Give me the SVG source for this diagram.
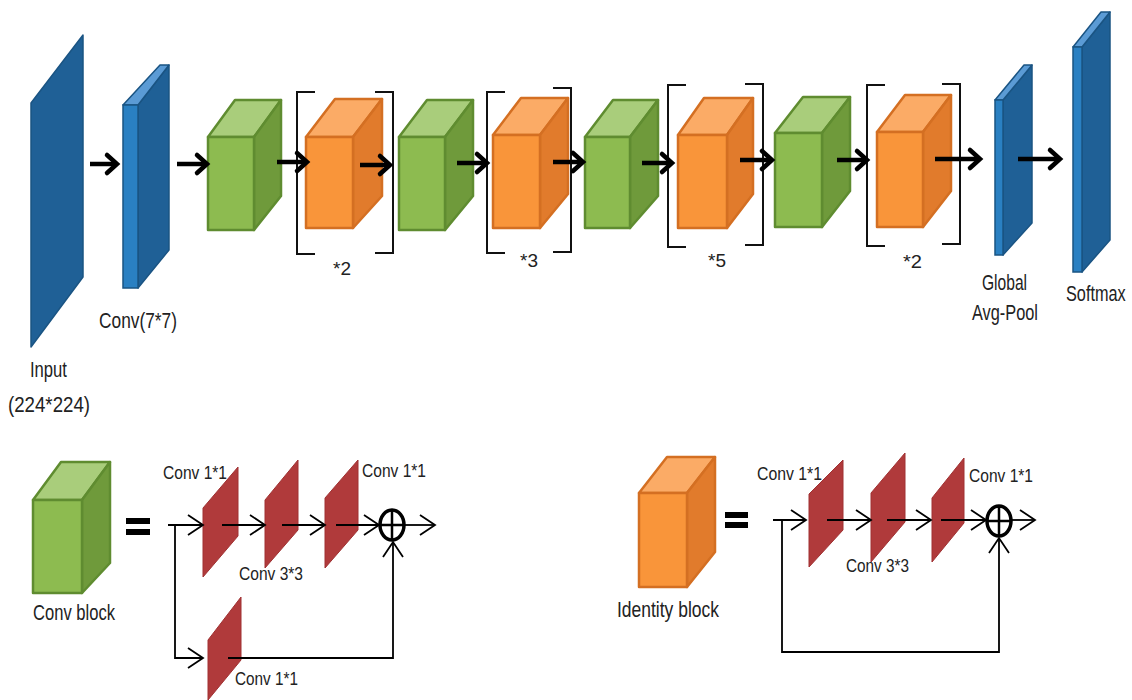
<svg xmlns="http://www.w3.org/2000/svg" width="1132" height="700" viewBox="0 0 1132 700">
<style>
.t{font-family:"Liberation Sans",Arial,sans-serif;fill:#222;font-size:22px}
.s{font-family:"Liberation Sans",Arial,sans-serif;fill:#222;font-size:18px}
.gf{fill:#8dbb50;stroke:#5f8c30;stroke-width:2.5;stroke-linejoin:round}
.gs{fill:#6f9a3b;stroke:#5f8c30;stroke-width:2.5;stroke-linejoin:round}
.gt{fill:#a9cd7b;stroke:#5f8c30;stroke-width:2.5;stroke-linejoin:round}
.of{fill:#f9953a;stroke:#d46f22;stroke-width:2.5;stroke-linejoin:round}
.os{fill:#e17b2c;stroke:#d46f22;stroke-width:2.5;stroke-linejoin:round}
.ot{fill:#fbab66;stroke:#d46f22;stroke-width:2.5;stroke-linejoin:round}
.bd{fill:#1f6096;stroke:#1a5483;stroke-width:1.5;stroke-linejoin:round}
.bf{fill:#2a80c2;stroke:#1a5483;stroke-width:1.5}
.bt{fill:#5b9bd5;stroke:#1a5483;stroke-width:1.5;stroke-linejoin:round}
.red{fill:#b03a3b;stroke:#a03132;stroke-width:1}
.br{fill:none;stroke:#111;stroke-width:2}
.ba{fill:none;stroke:#000;stroke-width:4.5;marker-end:url(#bigHead)}
.ta{fill:none;stroke:#000;stroke-width:1.8;marker-end:url(#thinHead)}
.eq{fill:#000}
</style>
<defs>
<marker id="bigHead" markerUnits="userSpaceOnUse" markerWidth="20" markerHeight="24" refX="11" refY="10" orient="auto" overflow="visible">
<path d="M1,1 L11,10 L1,19" fill="none" stroke="#000" stroke-width="4.5" stroke-linecap="round" stroke-linejoin="miter"/>
</marker>
<marker id="thinHead" markerUnits="userSpaceOnUse" markerWidth="20" markerHeight="22" refX="15" refY="10" orient="auto" overflow="visible">
<path d="M0,0 L15,10 L0,20" fill="none" stroke="#000" stroke-width="1.8"/>
</marker>
</defs>

<g id="input">
<polygon class="bd" points="31,103 83,35 83,277 31,347"/>
<text class="t" x="30" y="377" textLength="37" lengthAdjust="spacingAndGlyphs">Input</text>
<text class="t" x="8" y="412" textLength="82" lengthAdjust="spacingAndGlyphs">(224*224)</text>
</g>

<g id="conv7">
<polygon class="bd" points="138,105 169,65 169,250 138,288"/>
<polygon class="bt" points="123,105 160,65 169,65 138,105"/>
<rect class="bf" x="123" y="105" width="15" height="183"/>
<text class="t" x="99" y="328" textLength="78" lengthAdjust="spacingAndGlyphs">Conv(7*7)</text>
</g>

<g id="conv1">
<polygon class="gt" points="208,137 235,100 281,100 254,137"/>
<polygon class="gs" points="254,137 281,100 281,196 254,230"/>
<rect class="gf" x="208" y="137" width="46" height="93"/>
</g>
<g id="id1">
<polygon class="ot" points="306,137 335,99 382,99 353,137"/>
<polygon class="os" points="353,137 382,99 382,196 353,228"/>
<rect class="of" x="306" y="137" width="47" height="91"/>
<path class="br" d="M315,92 H297 V254 H315"/>
<path class="br" d="M375,92 H393 V253 H375"/>
<text class="s" x="333" y="275" textLength="18" lengthAdjust="spacingAndGlyphs">*2</text>
</g>
<g id="conv2">
<polygon class="gt" points="399,137 427,100 473,100 445,137"/>
<polygon class="gs" points="445,137 473,100 473,196 445,230"/>
<rect class="gf" x="399" y="137" width="46" height="93"/>
</g>
<g id="id2">
<polygon class="ot" points="493,135 521,98 568,98 540,135"/>
<polygon class="os" points="540,135 568,98 568,194 540,228"/>
<rect class="of" x="493" y="135" width="47" height="93"/>
<path class="br" d="M505,92 H487 V253 H505"/>
<path class="br" d="M553,88 H571 V252 H553"/>
<text class="s" x="520" y="267" textLength="18" lengthAdjust="spacingAndGlyphs">*3</text>
</g>
<g id="conv3">
<polygon class="gt" points="585,137 613,100 658,100 630,137"/>
<polygon class="gs" points="630,137 658,100 658,196 630,228"/>
<rect class="gf" x="585" y="137" width="45" height="91"/>
</g>
<g id="id3">
<polygon class="ot" points="678,135 704,98 753,98 727,135"/>
<polygon class="os" points="727,135 753,98 753,194 727,228"/>
<rect class="of" x="678" y="135" width="49" height="93"/>
<path class="br" d="M686,85 H668 V247 H686"/>
<path class="br" d="M745,84 H763 V245 H745"/>
<text class="s" x="708" y="267" textLength="18" lengthAdjust="spacingAndGlyphs">*5</text>
</g>
<g id="conv4">
<polygon class="gt" points="775,133 803,97 850,97 822,133"/>
<polygon class="gs" points="822,133 850,97 850,191 822,227"/>
<rect class="gf" x="775" y="133" width="47" height="94"/>
</g>
<g id="id4">
<polygon class="ot" points="877,132 905,95 951,95 923,132"/>
<polygon class="os" points="923,132 951,95 951,191 923,227"/>
<rect class="of" x="877" y="132" width="46" height="95"/>
<path class="br" d="M885,85 H867 V246 H885"/>
<path class="br" d="M942,84 H960 V244 H942"/>
<text class="s" x="903" y="268" textLength="19" lengthAdjust="spacingAndGlyphs">*2</text>
</g>

<g id="gap">
<polygon class="bd" points="1003,100 1032,65 1032,223 1003,255"/>
<polygon class="bt" points="995,100 1024,65 1032,65 1003,100"/>
<rect class="bf" x="995" y="100" width="8" height="155"/>
<text class="t" x="982" y="290" textLength="45" lengthAdjust="spacingAndGlyphs">Global</text>
<text class="t" x="972" y="320" textLength="66" lengthAdjust="spacingAndGlyphs">Avg-Pool</text>
</g>
<g id="softmax">
<polygon class="bd" points="1082,47 1110,12 1110,240 1082,272"/>
<polygon class="bt" points="1073,47 1101,12 1110,12 1082,47"/>
<rect class="bf" x="1073" y="47" width="9" height="225"/>
<text class="t" transform="translate(1066,301) scale(0.74,1)">Softmax</text>
</g>

<g id="main-connectors">
<path class="ba" d="M90,164 H117"/>
<path class="ba" d="M177,164 H207"/>
<path class="ba" d="M277,162 H307"/>
<path class="ba" d="M360,165 H390"/>
<path class="ba" d="M457,163 H487"/>
<path class="ba" d="M553,162 H583"/>
<path class="ba" d="M642,163 H672"/>
<path class="ba" d="M740,160 H772"/>
<path class="ba" d="M837,160 H867"/>
<path class="ba" d="M935,159 H980"/>
<path class="ba" d="M1018,159 H1060"/>
</g>

<g id="conv-block-legend">
<polygon class="gt" points="33,500 61,462 110,462 82,500"/>
<polygon class="gs" points="82,500 110,462 110,563 82,593"/>
<rect class="gf" x="33" y="500" width="49" height="93"/>
<text class="t" x="33" y="620" textLength="82" lengthAdjust="spacingAndGlyphs">Conv block</text>
<rect class="eq" x="126" y="518" width="24" height="6"/>
<rect class="eq" x="126" y="529" width="24" height="6"/>
</g>
<g id="cb-conv1">
<polygon class="red" points="203,508 238,467 238,536 203,577"/>
<text class="s" x="163" y="479" textLength="64" lengthAdjust="spacingAndGlyphs">Conv 1*1</text>
</g>
<g id="cb-conv3">
<polygon class="red" points="265,500 298,460 298,530 265,568"/>
<text class="s" x="239" y="580" textLength="64" lengthAdjust="spacingAndGlyphs">Conv 3*3</text>
</g>
<g id="cb-conv1b">
<polygon class="red" points="325,498 358,460 358,530 325,568"/>
<text class="s" x="362" y="477" textLength="64" lengthAdjust="spacingAndGlyphs">Conv 1*1</text>
</g>
<g id="cb-shortcut">
<polygon class="red" points="208,640 241,597 241,660 208,700"/>
<text class="s" x="235" y="685" textLength="63" lengthAdjust="spacingAndGlyphs">Conv 1*1</text>
</g>
<g id="cb-add">
<ellipse cx="392" cy="525" rx="12" ry="15" fill="none" stroke="#000" stroke-width="3.5"/>
<path d="M380,525 H404 M392,510 V540" stroke="#000" stroke-width="2.5"/>
</g>

<g id="identity-block-legend">
<polygon class="ot" points="639,493 667,457 715,457 687,493"/>
<polygon class="os" points="687,493 715,457 715,552 687,587"/>
<rect class="of" x="639" y="493" width="48" height="94"/>
<text class="t" x="617" y="617" textLength="102" lengthAdjust="spacingAndGlyphs">Identity block</text>
<rect class="eq" x="725" y="512" width="23" height="6"/>
<rect class="eq" x="725" y="522" width="23" height="6"/>
</g>
<g id="ib-conv1">
<polygon class="red" points="809,494 843,460 843,530 809,567"/>
<text class="s" x="757" y="480" textLength="65" lengthAdjust="spacingAndGlyphs">Conv 1*1</text>
</g>
<g id="ib-conv3">
<polygon class="red" points="871,493 905,453 905,522 871,562"/>
<text class="s" x="846" y="572" textLength="63" lengthAdjust="spacingAndGlyphs">Conv 3*3</text>
</g>
<g id="ib-conv1b">
<polygon class="red" points="932,498 964,458 964,523 932,562"/>
<text class="s" x="969" y="482" textLength="64" lengthAdjust="spacingAndGlyphs">Conv 1*1</text>
</g>
<g id="ib-add">
<ellipse cx="999" cy="521" rx="12" ry="15" fill="none" stroke="#000" stroke-width="3.5"/>
<path d="M987,521 H1011 M999,506 V536" stroke="#000" stroke-width="2.5"/>
</g>

<g id="block-connectors">
<path class="ta" d="M168,525 H203"/>
<path class="ta" d="M222,525 H265"/>
<path class="ta" d="M282,525 H325"/>
<path class="ta" d="M336,525 H379"/>
<path class="ta" d="M404,525 H435"/>
<path class="ta" d="M175,525 V658 H203"/>
<path class="ta" d="M228,658 H393 V542"/>
<path class="ta" d="M773,520 H806"/>
<path class="ta" d="M827,520 H871"/>
<path class="ta" d="M887,520 H931"/>
<path class="ta" d="M941,520 H986"/>
<path class="ta" d="M1011,520 H1035"/>
<path class="ta" d="M782,520 V652 H999 V538"/>
</g>
</svg>
